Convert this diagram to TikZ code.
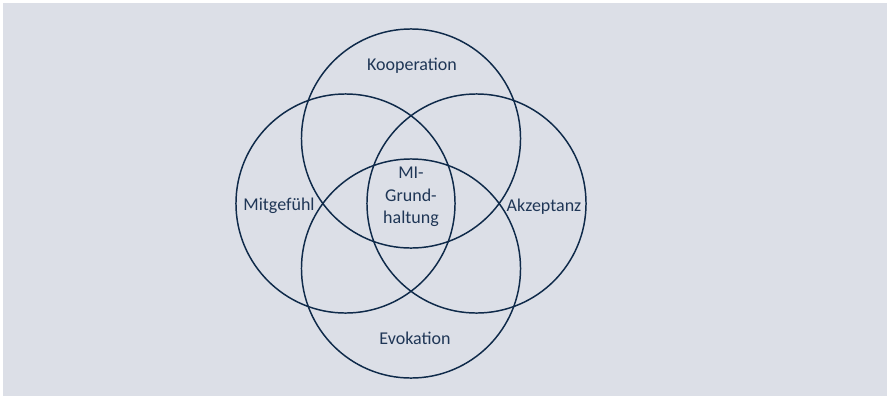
\documentclass[tikz,border=0pt]{standalone}
\usepackage{fontspec}
\setmainfont{Carlito}
\usetikzlibrary{positioning}
\definecolor{myNavy}{HTML}{0F2A4A}
\definecolor{myInk}{HTML}{1F3656}
\definecolor{myBack}{HTML}{DCDFE7}

\begin{document}
\begin{tikzpicture}[x=0.025cm, y=-0.025cm,
  ring/.style={draw=myNavy, line width=1.05pt, circle,
               minimum size=5.475cm, inner sep=0pt},
  lbl/.style={font=\fontsize{12.8}{16}\selectfont, text=myInk,
              align=center, inner sep=0pt}
]
\useasboundingbox (0,0) rectangle (887,396);
\fill[myBack] (3,3) rectangle (887,396);

% the four circles
\node[ring] (cKoop) at (411,138.5) {};
\node[ring] (cEvok) at (411,268.5) {};
\node[ring] (cMitg) at (345.5,203.5) {};
\node[ring] (cAkz)  at (476.5,203.5) {};

% labels
\node[lbl] (koop) at (412,66)  {Kooperation};
\node[lbl] (evok) at (415,338) {Evokation};
\node[lbl] (mitg) at (279,206) {Mitgefühl};
\node[lbl] (akz)  at (544,207) {Akzeptanz};
\node[lbl] (kern) at (411,197) {MI-\\Grund-\\haltung};
\end{tikzpicture}
\end{document}
